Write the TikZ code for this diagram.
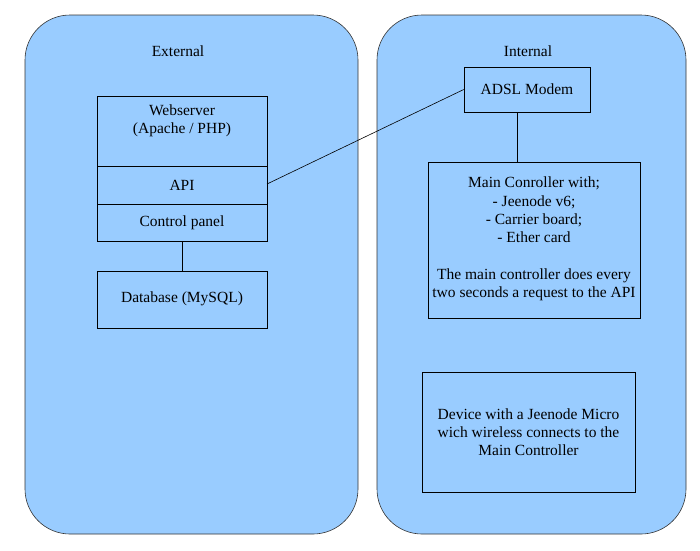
\documentclass[tikz,border=0pt]{standalone}
\usepackage{fontspec}
\setmainfont{Liberation Serif}
\begin{document}
\begin{tikzpicture}[x=1pt,y=-1pt,
  zone/.style={draw=black!80,fill=zonefill,rounded corners=45pt,line width=0.6pt},
  box/.style={draw=black,line width=0.6pt},
  lbl/.style={font=\fontsize{15.5}{18.3}\selectfont,align=center,inner sep=0pt},
  conn/.style={draw=black,line width=0.6pt}]
\definecolor{zonefill}{RGB}{153,204,255}
\useasboundingbox (0,0) rectangle (700,550);
\draw[zone] (25,15) rectangle (358,534);
\draw[zone] (377,15) rectangle (686,534);
\node[lbl] (ext) at (178,51) {External};
\node[lbl] (int) at (528,51) {Internal};
\draw[box] (97,96) rectangle (267,166);
\node[lbl] (web) at (182,121) {Webserver\\(Apache / PHP)};
\draw[box] (97,166) rectangle (267,204);
\node[lbl] (apit) at (182,185) {API};
\draw[box] (97,204) rectangle (267,241);
\node[lbl] (cpt) at (182,223) {Control panel};
\coordinate (api) at (267,184);
\coordinate (cpb) at (182,241);
\draw[box] (97,271) rectangle (267,328);
\node[lbl] (dbt) at (182,299) {Database (MySQL)};
\coordinate (dbtop) at (182,271);
\node[box,minimum width=126pt,minimum height=45pt,inner sep=0pt,font=\fontsize{15.5}{18.3}\selectfont] (adsl) at (527,89.5) {ADSL Modem};
\node[box,minimum width=212pt,minimum height=156pt,anchor=north,inner sep=0pt] (mc) at (534,162) {};
\node[lbl,anchor=north] (mct) at (534,177) {Main Conroller with;\\- Jeenode v6;\\- Carrier board;\\- Ether card\\[18pt]The main controller does every\\two seconds a request to the API};
\node[box,minimum width=213pt,minimum height=120pt,inner sep=0pt] (dev) at (528.5,432) {};
\node[lbl] (devt) at (528.5,432) {Device with a Jeenode Micro\\wich wireless connects to the\\Main Controller};
\draw[conn] (cpb) -- (dbtop);
\draw[conn] (api) -- (adsl.west);
\draw[conn] (adsl.south -| 517,0) -- (mc.north -| 517,0);
\end{tikzpicture}
\end{document}
